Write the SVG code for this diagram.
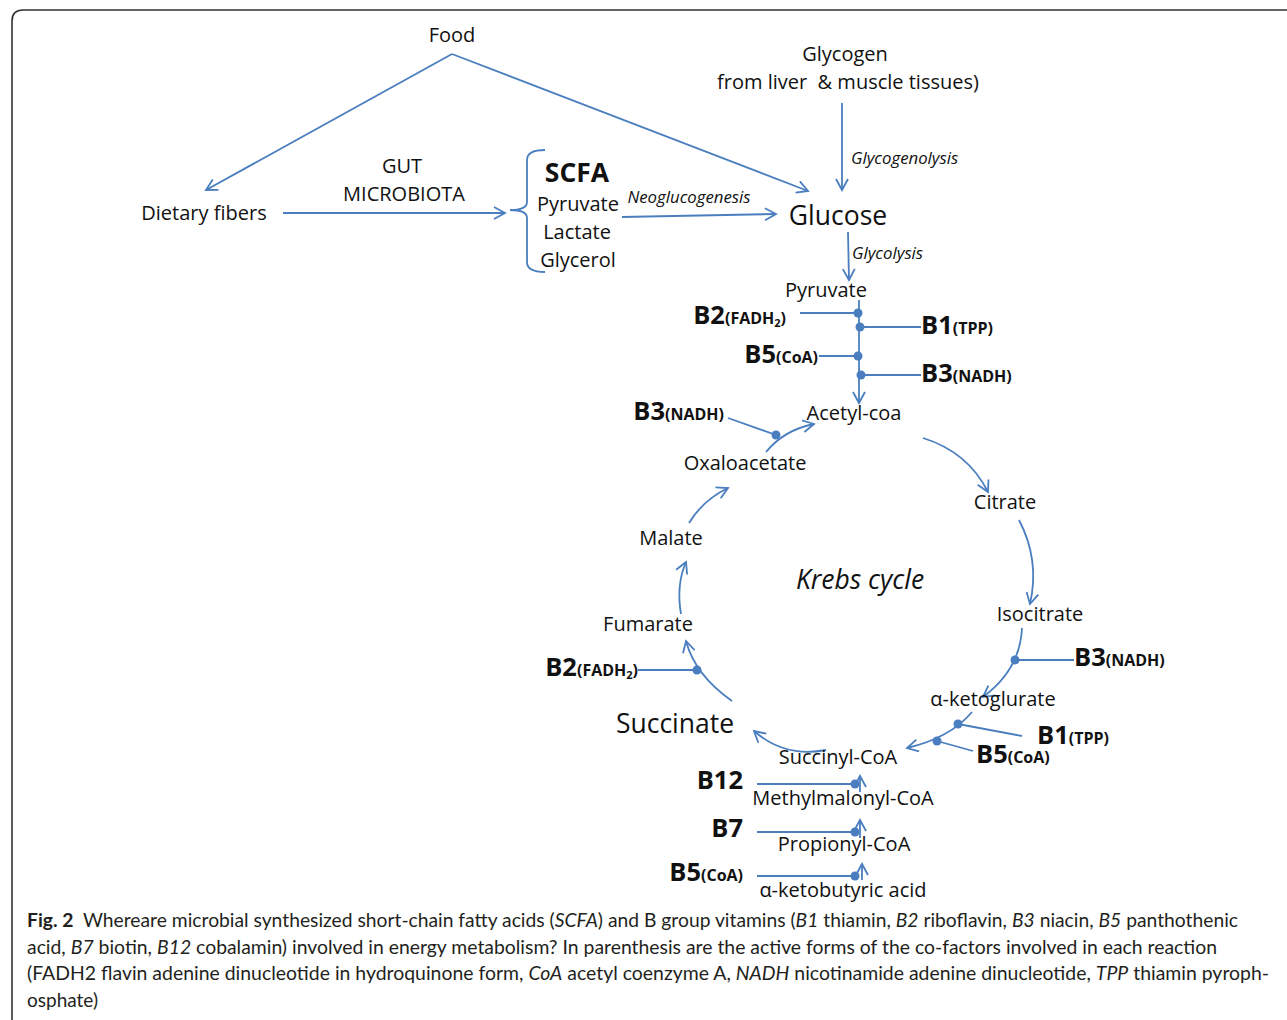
<svg xmlns="http://www.w3.org/2000/svg" width="1287" height="1020" viewBox="0 0 1287 1020">
<defs>
<marker id="arr" markerUnits="userSpaceOnUse" markerWidth="16" markerHeight="16" refX="11" refY="6" orient="auto" overflow="visible">
<path d="M0,0 L11,6 L0,12" fill="none" stroke="#4a7ebf" stroke-width="1.8"/>
</marker>
</defs>
<style>
.t{font-family:"Open Sans","Noto Sans",sans-serif;font-size:20px;fill:#111;white-space:pre}
.big{font-size:26.5px}
.it{font-style:italic;font-size:16.8px}
.v{font-family:"Open Sans","Noto Sans",sans-serif;font-weight:bold;fill:#111}
.vb{font-size:25.5px}
.vs{font-size:16px}
.vss{font-size:11px}
.c{fill:none;stroke:#4a7ebf;stroke-width:1.8}
.a{marker-end:url(#arr)}
.d{fill:#4a7ebf}
.cap{font-family:Lato,"Open Sans",sans-serif;font-size:19px;fill:#231f20;white-space:pre}
</style>
<rect width="1287" height="1020" fill="#fff"/>
<path d="M12 1030 V21 Q12 10 23 10 H1300" fill="none" stroke="#333" stroke-width="1.6"/>

<g id="connectors">
<path class="c a" d="M452 54 L206 190"/>
<path class="c a" d="M452 54 L808 191"/>
<path class="c a" d="M283 213 L505 213"/>
<path class="c" d="M545 150 Q527 150 527 160 V202 Q527 210 510 210 Q527 210 527 218 V262 Q527 272 545 272"/>
<path class="c a" d="M622 217 L776 214"/>
<path class="c a" d="M842 103 L842 190"/>
<path class="c a" d="M848 232 L849 280"/>
<path class="c a" d="M859 300 L859 403"/>
<path class="c" d="M800 313 L858 313"/>
<path class="c" d="M860 327 L921 327"/>
<path class="c" d="M819 356 L858 356"/>
<path class="c" d="M861 375 L921 375"/>
<path class="c" d="M728 418 L776 435"/>
<path class="c a" d="M766 452 Q784 430 814 424"/>
<path class="c a" d="M923 438 Q968 452 988 492"/>
<path class="c a" d="M1019 520 Q1040 560 1030 604"/>
<path class="c a" d="M1022 628 Q1020 670 983 697"/>
<path class="c" d="M1015 660 L1074 660"/>
<path class="c a" d="M972 712 Q950 738 907 748"/>
<path class="c" d="M958 724 L1022 736"/>
<path class="c" d="M937 741 L973 751"/>
<path class="c a" d="M826 750 Q785 758 754 731"/>
<path class="c a" d="M732 701 Q695 675 686 641"/>
<path class="c" d="M638 670 L697 670"/>
<path class="c a" d="M681 614 Q676 585 686 562"/>
<path class="c a" d="M689 523 Q703 500 728 488"/>
<path class="c" d="M757 784 L855 784"/>
<path class="c a" d="M860 792 L860 776"/>
<path class="c" d="M757 832 L855 832"/>
<path class="c a" d="M860 838 L860 820"/>
<path class="c" d="M757 876 L855 876"/>
<path class="c a" d="M862 880 L862 864"/>
<circle class="d" cx="858" cy="313" r="4.5"/>
<circle class="d" cx="860" cy="327" r="4.5"/>
<circle class="d" cx="858" cy="356" r="4.5"/>
<circle class="d" cx="861" cy="375" r="4.5"/>
<circle class="d" cx="776" cy="435" r="4.5"/>
<circle class="d" cx="1015" cy="660" r="4.5"/>
<circle class="d" cx="958" cy="724" r="4.5"/>
<circle class="d" cx="937" cy="741" r="4.5"/>
<circle class="d" cx="697" cy="670" r="4.5"/>
<circle class="d" cx="855" cy="784" r="4.5"/>
<circle class="d" cx="855" cy="832" r="4.5"/>
<circle class="d" cx="855" cy="876" r="4.5"/>
</g>

<g id="food"><text class="t" x="452" y="42" text-anchor="middle">Food</text></g>
<g id="glycogen"><text class="t" x="845" y="61" text-anchor="middle">Glycogen</text><text class="t" x="848" y="89" text-anchor="middle">from liver  &amp; muscle tissues)</text></g>
<g id="gut"><text class="t" x="402" y="173" text-anchor="middle">GUT</text><text class="t" x="404" y="201" text-anchor="middle">MICROBIOTA</text></g>
<g id="fibers"><text class="t" x="204" y="220" text-anchor="middle">Dietary fibers</text></g>
<g id="scfa"><text class="v" x="577" y="182" text-anchor="middle" font-size="26.5">SCFA</text>
<text class="t" x="578" y="211" text-anchor="middle">Pyruvate</text>
<text class="t" x="577" y="239" text-anchor="middle">Lactate</text>
<text class="t" x="578" y="267" text-anchor="middle">Glycerol</text></g>
<g id="neo"><text class="t it" x="689" y="203" text-anchor="middle">Neoglucogenesis</text></g>
<g id="glucose"><text class="t big" x="838" y="225" text-anchor="middle">Glucose</text></g>
<g id="glycogenolysis"><text class="t it" x="851" y="164">Glycogenolysis</text></g>
<g id="glycolysis"><text class="t it" x="852" y="259">Glycolysis</text></g>
<g id="pyruvate"><text class="t" x="826" y="297" text-anchor="middle">Pyruvate</text></g>
<g id="acetyl"><text class="t" x="854" y="420" text-anchor="middle">Acetyl-coa</text></g>
<g id="oxalo"><text class="t" x="745" y="470" text-anchor="middle">Oxaloacetate</text></g>
<g id="citrate"><text class="t" x="1005" y="509" text-anchor="middle">Citrate</text></g>
<g id="malate"><text class="t" x="671" y="545" text-anchor="middle">Malate</text></g>
<g id="krebs"><text class="t big" x="860" y="589" text-anchor="middle" font-style="italic">Krebs cycle</text></g>
<g id="isocitrate"><text class="t" x="1040" y="621" text-anchor="middle">Isocitrate</text></g>
<g id="fumarate"><text class="t" x="648" y="631" text-anchor="middle">Fumarate</text></g>
<g id="aketo"><text class="t" x="993" y="706" text-anchor="middle">α-ketoglurate</text></g>
<g id="succinate"><text class="t big" x="675" y="733" text-anchor="middle">Succinate</text></g>
<g id="succinyl"><text class="t" x="838" y="764" text-anchor="middle">Succinyl-CoA</text></g>
<g id="methyl"><text class="t" x="843" y="805" text-anchor="middle">Methylmalonyl-CoA</text></g>
<g id="propionyl"><text class="t" x="844" y="851" text-anchor="middle">Propionyl-CoA</text></g>
<g id="aketobut"><text class="t" x="843" y="897" text-anchor="middle">α-ketobutyric acid</text></g>

<g id="v-b2a"><text class="v" x="786" y="324" text-anchor="end"><tspan class="vb">B2</tspan><tspan class="vs">(FADH</tspan><tspan class="vss" dy="3">2</tspan><tspan class="vs" dy="-3">)</tspan></text></g>
<g id="v-b1a"><text class="v" x="921" y="334"><tspan class="vb">B1</tspan><tspan class="vs">(TPP)</tspan></text></g>
<g id="v-b5a"><text class="v" x="818" y="363" text-anchor="end"><tspan class="vb">B5</tspan><tspan class="vs">(CoA)</tspan></text></g>
<g id="v-b3a"><text class="v" x="921" y="382"><tspan class="vb">B3</tspan><tspan class="vs">(NADH)</tspan></text></g>
<g id="v-b3b"><text class="v" x="724" y="420" text-anchor="end"><tspan class="vb">B3</tspan><tspan class="vs">(NADH)</tspan></text></g>
<g id="v-b3c"><text class="v" x="1074" y="666"><tspan class="vb">B3</tspan><tspan class="vs">(NADH)</tspan></text></g>
<g id="v-b2b"><text class="v" x="638" y="676" text-anchor="end"><tspan class="vb">B2</tspan><tspan class="vs">(FADH</tspan><tspan class="vss" dy="3">2</tspan><tspan class="vs" dy="-3">)</tspan></text></g>
<g id="v-b1b"><text class="v" x="1037" y="744"><tspan class="vb">B1</tspan><tspan class="vs">(TPP)</tspan></text></g>
<g id="v-b5b"><text class="v" x="976" y="763"><tspan class="vb">B5</tspan><tspan class="vs">(CoA)</tspan></text></g>
<g id="v-b12"><text class="v vb" x="743" y="789" text-anchor="end">B12</text></g>
<g id="v-b7"><text class="v vb" x="743" y="837" text-anchor="end">B7</text></g>
<g id="v-b5c"><text class="v" x="743" y="881" text-anchor="end"><tspan class="vb">B5</tspan><tspan class="vs">(CoA)</tspan></text></g>

<g id="caption">
<text class="cap" x="27" y="927" textLength="1211" lengthAdjust="spacingAndGlyphs"><tspan font-weight="bold">Fig. 2</tspan>  Whereare microbial synthesized short-chain fatty acids (<tspan font-style="italic">SCFA</tspan>) and B group vitamins (<tspan font-style="italic">B1</tspan> thiamin, <tspan font-style="italic">B2</tspan> riboflavin, <tspan font-style="italic">B3</tspan> niacin, <tspan font-style="italic">B5</tspan> panthothenic</text>
<text class="cap" x="27" y="954" textLength="1190" lengthAdjust="spacingAndGlyphs">acid, <tspan font-style="italic">B7</tspan> biotin, <tspan font-style="italic">B12</tspan> cobalamin) involved in energy metabolism? In parenthesis are the active forms of the co-factors involved in each reaction</text>
<text class="cap" x="27" y="980" textLength="1242" lengthAdjust="spacingAndGlyphs">(FADH2 flavin adenine dinucleotide in hydroquinone form, <tspan font-style="italic">CoA</tspan> acetyl coenzyme A, <tspan font-style="italic">NADH</tspan> nicotinamide adenine dinucleotide, <tspan font-style="italic">TPP</tspan> thiamin pyroph-</text>
<text class="cap" x="27" y="1007">osphate)</text>
</g>
</svg>
